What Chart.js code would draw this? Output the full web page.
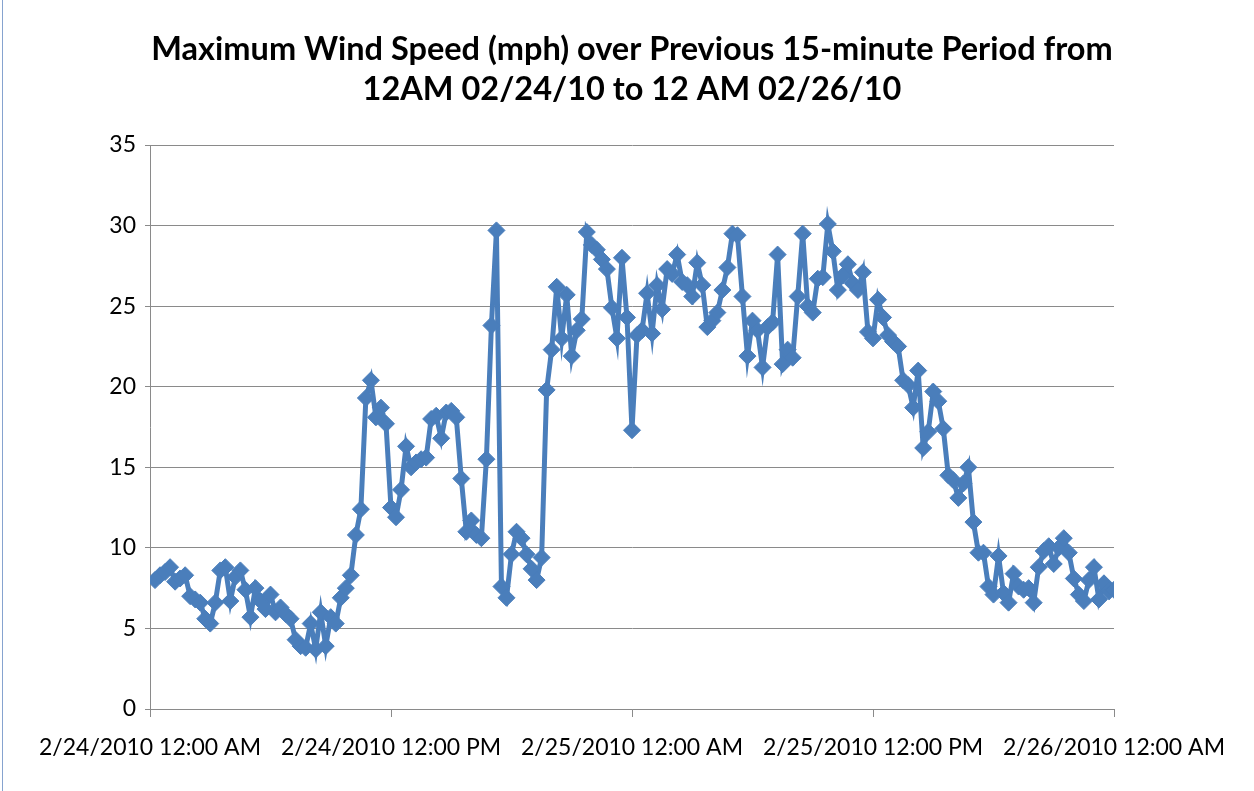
<!DOCTYPE html>
<html>
<head>
<meta charset="utf-8">
<title>Maximum Wind Speed</title>
<script src="https://cdn.jsdelivr.net/npm/chart.js@4.4.1/dist/chart.umd.min.js"></script>
<style>
    html, body { margin: 0; padding: 0; background: #fff; }
    #wrap { position: relative; width: 1254px; height: 791px; }
    #borde { position: absolute; left: 2px; top: 0; width: 1px; height: 791px; background: #86a3cf; }
</style>
</head>
<body>
<div id="wrap">
    <canvas id="graficoViento" width="1254" height="791"></canvas>
    <div id="borde"></div>
</div>
<script>
// datos: una lectura cada 15 minutos (mph)
const velocidades = [
    8.0, 8.3, 8.5, 8.8, 7.9, 8.1, 8.3, 7.0, 6.8, 6.6, 5.6, 5.3,
    6.6, 8.6, 8.8, 6.7, 8.2, 8.6, 7.4, 5.7, 7.5, 6.7, 6.2, 7.1,
    6.0, 6.3, 5.9, 5.6, 4.3, 3.9, 3.8, 5.3, 3.7, 6.0, 3.9, 5.7,
    5.3, 6.9, 7.5, 8.3, 10.8, 12.4, 19.3, 20.4, 18.1, 18.7, 17.7, 12.5,
    11.9, 13.6, 16.3, 15.0, 15.3, 15.5, 15.6, 18.0, 18.2, 16.8, 18.4, 18.5,
    18.1, 14.3, 11.0, 11.7, 10.8, 10.6, 15.5, 23.8, 29.7, 7.6, 6.9, 9.6,
    11.0, 10.6, 9.6, 8.7, 8.0, 9.4, 19.8, 22.3, 26.2, 23.0, 25.7, 21.9,
    23.5, 24.2, 29.6, 28.8, 28.5, 27.9, 27.3, 24.9, 23.0, 28.0, 24.3, 17.3,
    23.2, 23.5, 25.8, 23.3, 26.3, 24.8, 27.3, 27.0, 28.2, 26.5, 26.3, 25.6,
    27.7, 26.3, 23.7, 24.1, 24.6, 26.0, 27.4, 29.5, 29.4, 25.6, 21.9, 24.1,
    23.5, 21.2, 23.7, 24.0, 28.2, 21.4, 22.3, 21.8, 25.6, 29.5, 25.0, 24.6,
    26.7, 26.8, 30.1, 28.4, 26.0, 26.9, 27.6, 26.4, 26.0, 27.1, 23.4, 23.0,
    25.4, 24.3, 23.2, 22.8, 22.5, 20.4, 20.1, 18.7, 21.0, 16.2, 17.2, 19.7,
    19.1, 17.4, 14.5, 14.2, 13.1, 14.0, 15.0, 11.6, 9.7, 9.7, 7.6, 7.1,
    9.5, 7.2, 6.6, 8.4, 7.6, 7.4, 7.5, 6.6, 8.8, 9.8, 10.1, 9.0,
    10.0, 10.6, 9.7, 8.1, 7.1, 6.7, 8.0, 8.8, 6.8, 7.8, 7.3, 7.4
];

// etiquetas del eje x, una cada 12 horas
const etiquetasX = [
    "2/24/2010 12:00 AM",
    "2/24/2010 12:00 PM",
    "2/25/2010 12:00 AM",
    "2/25/2010 12:00 PM",
    "2/26/2010 12:00 AM"
];

const titulo = [
    "Maximum Wind Speed (mph) over Previous 15-minute Period from",
    "12AM 02/24/10 to 12 AM 02/26/10"
];

// titulo centrado sobre el area del grafico, como en Excel
const tituloPlugin = {
    id: "tituloExcel",
    afterDraw: function (chart) {
        const c = chart.ctx;
        const centro = (chart.chartArea.left + chart.chartArea.right) / 2;
        c.save();
        c.fillStyle = "#000";
        c.font = "bold 32.5px Lato";
        c.textAlign = "center";
        c.textBaseline = "middle";
        c.fillText(titulo[0], centro, 50);
        c.fillText(titulo[1], centro, 90);
        c.restore();
    }
};

document.addEventListener("DOMContentLoaded", function () {
    // cada lectura cierra un periodo de 15 minutos (horas desde 12 AM 02/24)
    const puntos = velocidades.map((v, i) => ({ x: (i + 1) * 0.25, y: v }));
    const azul = "#4a7ebb";
    const gris = "#8a8a8a";

    const ctx = document.getElementById("graficoViento").getContext("2d");
    new Chart(ctx, {
        type: "line",
        data: {
            datasets: [{
                data: puntos,
                borderColor: azul,
                backgroundColor: azul,
                borderWidth: 5,
                pointStyle: "rectRot",
                pointRadius: 8.5,
                pointBorderWidth: 1,
                pointBorderColor: azul,
                tension: 0
            }]
        },
        options: {
            responsive: false,
            animation: false,
            layout: { padding: { top: 145, left: 0, right: 140, bottom: 0 } },
            plugins: {
                legend: { display: false },
                tooltip: { enabled: false },
                title: { display: false }
            },
            scales: {
                x: {
                    type: "linear",
                    min: 0,
                    max: 48,
                    afterFit: function (scale) { scale.height = 82; },
                    afterBuildTicks: function (scale) {
                        scale.ticks = etiquetasX.map((t, i) => ({ value: i * 12 }));
                    },
                    ticks: {
                        color: "#000",
                        font: { family: "Lato", size: 23 },
                        padding: 17,
                        maxRotation: 0,
                        autoSkip: false,
                        callback: function (value) { return etiquetasX[Math.round(value / 12)]; }
                    },
                    grid: { drawOnChartArea: false, color: gris, tickLength: 8 },
                    border: { color: gris, width: 1 }
                },
                y: {
                    min: 0,
                    max: 35,
                    afterFit: function (scale) { scale.width = 150; },
                    ticks: {
                        stepSize: 5,
                        color: "#000",
                        font: { family: "Lato", size: 23 },
                        padding: 9
                    },
                    grid: { color: gris, tickLength: 5 },
                    border: { color: gris, width: 1 }
                }
            }
        },
        plugins: [tituloPlugin]
    });
});
</script>
</body>
</html>
